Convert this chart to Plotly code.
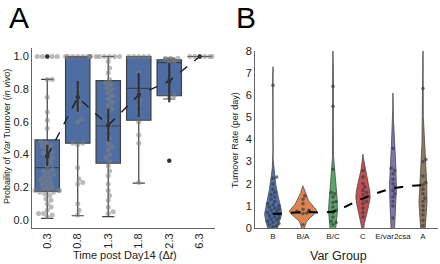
import numpy as np
import plotly.graph_objects as go

W, H = 440, 264

# ---------------- Panel A data ----------------
time_labels = ["0.3", "0.8", "1.3", "1.8", "2.3", "6.3"]

pts_t03 = [1.0, 1.0, 1.0, 1.0, 1.0, 0.86, 0.86, 0.75, 0.66, 0.61, 0.56, 0.48, 0.47, 0.46,
           0.45, 0.44, 0.42, 0.41, 0.40, 0.38, 0.37, 0.35, 0.33, 0.31, 0.30, 0.29, 0.28,
           0.27, 0.26, 0.25, 0.24, 0.23, 0.22, 0.21, 0.20, 0.19, 0.18, 0.18, 0.18, 0.18,
           0.17, 0.17, 0.16, 0.15, 0.13, 0.12, 0.10, 0.08, 0.06, 0.04, 0.04, 0.03, 0.02]
pts_t08 = [1.0] * 10 + [0.80, 0.74, 0.70, 0.67, 0.62, 0.60, 0.47, 0.47, 0.46, 0.32,
                        0.25, 0.23, 0.22, 0.10, 0.06, 0.03]
pts_t13 = [1.0] * 6 + [0.97, 0.93, 0.90, 0.86, 0.84, 0.83, 0.81, 0.80, 0.78, 0.76, 0.74,
                       0.72, 0.70, 0.68, 0.66, 0.61, 0.58, 0.55, 0.50, 0.47, 0.45, 0.43,
                       0.40, 0.38, 0.36, 0.33, 0.30, 0.27, 0.22, 0.18, 0.15, 0.12, 0.08,
                       0.05, 0.04]
pts_t18 = [1.0] * 5 + [0.90, 0.77, 0.73, 0.70, 0.66, 0.60, 0.52, 0.47, 0.23]
pts_t23 = [0.99, 0.99, 0.99, 0.97, 0.96, 0.76, 0.75]
pts_t63 = [1.0] * 6

box_q1 = [0.175, 0.47, 0.347, 0.61, 0.76, 1.0]
box_median = [0.32, 1.0, 0.575, 0.805, 0.962, 1.0]
box_q3 = [0.49, 1.0, 0.852, 1.0, 0.98, 1.0]
box_low = [0.01, 0.026, 0.02, 0.226, 0.74, 1.0]
box_high = [0.86, 1.0, 1.0, 1.0, 0.99, 1.0]

flier_cat = [0, 4]
flier_val = [1.0, 0.363]

mean_A = [0.39, 0.75, 0.58, 0.765, 0.85, 1.0]
ci_low_A = [0.33, 0.66, 0.48, 0.63, 0.72, 1.0]
ci_high_A = [0.46, 0.85, 0.68, 0.90, 0.96, 1.0]

# ---------------- Panel B data ----------------
groups = ["B", "B/A", "B/C", "C", "E/var2csa", "A"]
rate_B = [6.45, 2.3, 2.25, 2.0, 1.75, 1.6, 1.5, 1.4, 1.3, 1.2, 1.1, 1.05, 1.0, 0.95, 0.9,
          0.85, 0.8, 0.75, 0.7, 0.65, 0.6, 0.55, 0.5, 0.45, 0.4, 0.35, 0.3, 0.25, 0.2,
          0.15, 0.1, 0.05]
rate_BA = [1.45, 1.3, 1.1, 0.85, 0.8, 0.78, 0.75, 0.72, 0.7, 0.68, 0.65, 0.15]
rate_BC = [6.4, 5.5, 2.65, 1.6, 1.55, 1.4, 1.2, 1.15, 0.95, 0.8, 0.7, 0.5, 0.3, 0.25, 0.15]
rate_C = [2.6, 2.3, 2.0, 1.85, 1.7, 1.6, 1.5, 1.4, 1.3, 1.2, 1.1, 0.9, 0.7, 0.5]
rate_E = [3.6, 2.7, 2.6, 2.45, 2.2, 2.0, 1.85, 1.7, 1.55, 1.4, 1.2, 1.0, 0.45]
rate_A = [6.3, 3.1, 3.0, 2.35, 2.05, 1.95, 1.75, 1.55, 1.35, 1.2, 1.0, 0.8, 0.6, 0.35, 0.1]
mean_B = [0.63, 0.72, 0.75, 1.34, 1.79, 1.94]

# ---------------- styles ----------------
violin_colors = ["#4c72b0", "#dd8452", "#55a868", "#c44e52", "#8172b3", "#937860"]
violin_width = [0.56, 0.9, 0.30, 0.48, 0.23, 0.27]
violin_bw = [0.42, 0.23, 0.80, 0.37, 1.25, 1.0]
FONT = "Liberation Sans, Arial, sans-serif"
TXT = "#222222"

# pixel geometry of the two plot areas
A_x0, A_x1, A_y0, A_y1 = 32, 215, 48, 228
B_x0, B_x1, B_y0, B_y1 = 255, 438, 51, 228
A_yr = [-0.049, 1.052]
A_xr = [-0.5, 5.5]
B_xr = [-0.6, 5.5]
B_yr = [0, 8]

ppu_yA = (A_y1 - A_y0) / (A_yr[1] - A_yr[0])
ppu_xA = (A_x1 - A_x0) / (A_xr[1] - A_xr[0])
ppu_yB = (B_y1 - B_y0) / (B_yr[1] - B_yr[0])
ppu_xB = (B_x1 - B_x0) / (B_xr[1] - B_xr[0])
MS_A = 5.0
MS_B = 3.6


def swarm(vals, ppu_y, ppu_x, d, max_off):
    """Beeswarm offsets (in category units) so that markers do not overlap."""
    vals = np.asarray(vals, float)
    order = np.argsort(vals, kind="stable")
    res = np.zeros(len(vals))
    placed = []
    step = d / 4.0
    cands = [0.0]
    for k in range(1, 200):
        cands += [k * step, -k * step]
    for i in order:
        y = vals[i] * ppu_y
        chosen = 0.0
        for c in cands:
            if all((c - px) ** 2 + (y - py) ** 2 >= d * d * 0.97 for px, py in placed):
                chosen = c
                break
        chosen = float(np.clip(chosen, -max_off, max_off))
        placed.append((chosen, y))
        res[i] = chosen / ppu_x
    return res


def kde_outline(vals, bw, n=300):
    v = np.asarray(vals, float)
    grid = np.linspace(v.min() - 2 * bw, v.max() + 2 * bw, n)
    dens = np.exp(-0.5 * ((grid[:, None] - v[None, :]) / bw) ** 2).sum(axis=1)
    return grid, dens / dens.max()


fig = go.Figure()

# Panel A boxes
fig.add_trace(go.Box(
    x=list(range(len(time_labels))), q1=box_q1, median=box_median, q3=box_q3,
    lowerfence=box_low, upperfence=box_high, width=0.8, whiskerwidth=0.5,
    fillcolor="#4e6da3", line=dict(color="#404040", width=1.2),
    boxpoints=False, showlegend=False, xaxis="x", yaxis="y", hoverinfo="skip"))

# swarm points
all_pts = [pts_t03, pts_t08, pts_t13, pts_t18, pts_t23, pts_t63]
sx, sy = [], []
for ci, pts in enumerate(all_pts):
    offs = swarm(pts, ppu_yA, ppu_xA, MS_A, 0.4 * ppu_xA)
    sx += list(ci + offs)
    sy += list(pts)
fig.add_trace(go.Scatter(x=sx, y=sy, mode="markers",
                         marker=dict(size=MS_A, color="rgba(130,130,130,0.55)", line=dict(width=0)),
                         showlegend=False, xaxis="x", yaxis="y", hoverinfo="skip", cliponaxis=False))
fig.add_trace(go.Scatter(x=flier_cat, y=flier_val, mode="markers",
                         marker=dict(size=4.5, color="#333333"),
                         showlegend=False, xaxis="x", yaxis="y", hoverinfo="skip", cliponaxis=False))

# means with CI
mA = np.array(mean_A)
fig.add_trace(go.Scatter(
    x=list(range(len(time_labels))), y=mean_A, mode="lines+markers",
    line=dict(color="#222222", width=1.5, dash="dash"),
    marker=dict(size=4.5, color="#333333"),
    error_y=dict(type="data", symmetric=False, array=list(np.array(ci_high_A) - mA),
                 arrayminus=list(mA - np.array(ci_low_A)), color="#333333", thickness=2.2, width=0),
    showlegend=False, xaxis="x", yaxis="y", hoverinfo="skip", cliponaxis=False))

# Panel B violins (kernel density outlines, drawn symmetric around each group)
rates = [rate_B, rate_BA, rate_BC, rate_C, rate_E, rate_A]
for gi, r in enumerate(rates):
    grid, dens = kde_outline(r, violin_bw[gi])
    hw = violin_width[gi] / 2 * dens
    xs = np.concatenate([gi + hw, (gi - hw)[::-1]])
    ys = np.concatenate([grid, grid[::-1]])
    fig.add_trace(go.Scatter(x=xs, y=ys, mode="lines", fill="toself", fillcolor=violin_colors[gi],
                             line=dict(color="#4a4a4a", width=0.8), showlegend=False,
                             xaxis="x2", yaxis="y2", hoverinfo="skip"))

bx, by = [], []
for gi, r in enumerate(rates):
    half_px = violin_width[gi] / 2 * ppu_xB
    offs = swarm(r, ppu_yB, ppu_xB, MS_B, min(0.7 * half_px, 6))
    bx += list(gi + offs)
    by += list(r)
fig.add_trace(go.Scatter(x=bx, y=by, mode="markers",
                         marker=dict(size=MS_B, color="rgba(60,60,60,0.7)", line=dict(width=0)),
                         showlegend=False, xaxis="x2", yaxis="y2", hoverinfo="skip"))

fig.add_trace(go.Scatter(
    x=list(range(len(groups))), y=mean_B, mode="lines",
    line=dict(color="black", width=2, dash="dash", shape="spline"),
    showlegend=False, xaxis="x2", yaxis="y2", hoverinfo="skip"))


def dom_x(a, b):
    return [a / W, b / W]


def dom_y(top, bot):
    return [(H - bot) / H, (H - top) / H]


axis_common = dict(showgrid=False, zeroline=False, showline=True, linecolor="#666666", linewidth=1,
                   ticks="", automargin=False, tickfont=dict(family=FONT, size=11, color=TXT))

fig.update_layout(
    width=W, height=H, autosize=False, margin=dict(l=0, r=0, t=0, b=0),
    paper_bgcolor="white", plot_bgcolor="white", boxmode="overlay",
    font=dict(family=FONT, color=TXT),
    xaxis=dict(domain=dom_x(A_x0, A_x1), range=A_xr, tickvals=list(range(6)), ticktext=time_labels,
               tickangle=-90, anchor="y", **axis_common),
    yaxis=dict(domain=dom_y(A_y0, A_y1), range=A_yr, tickvals=[0, 0.2, 0.4, 0.6, 0.8, 1.0],
               tickformat=".1f", anchor="x", **axis_common),
    xaxis2=dict(domain=dom_x(B_x0, B_x1), range=B_xr, tickvals=list(range(6)), ticktext=groups,
                anchor="y2", **{**axis_common, "tickfont": dict(family=FONT, size=8, color=TXT)}),
    yaxis2=dict(domain=dom_y(B_y0, B_y1), range=B_yr, tickvals=list(range(9)), anchor="x2", **axis_common),
)

ann = [
    dict(text="A", x=19 / W, y=1.0, yanchor="top", borderpad=0, font=dict(size=30, family=FONT, color="black")),
    dict(text="B", x=246 / W, y=1.0, yanchor="top", borderpad=0, font=dict(size=30, family=FONT, color="black")),
    dict(text="Probaility of <i>Var</i> Turnover (<i>in vivo</i>)", x=7 / W, y=1 - 137 / H, textangle=-90,
         font=dict(size=9, family=FONT, color=TXT)),
    dict(text="Time post Day14 (Δ<i>t</i>)", x=125 / W, y=1 - 255 / H, font=dict(size=11, family=FONT, color=TXT)),
    dict(text="Turnover Rate (per day)", x=235 / W, y=1 - 140 / H, textangle=-90,
         font=dict(size=9, family=FONT, color=TXT)),
    dict(text="Var Group", x=338 / W, y=1 - 256 / H, font=dict(size=12.5, family=FONT, color=TXT)),
]
for a in ann:
    a.setdefault("yanchor", "middle")
    a.update(xref="paper", yref="paper", showarrow=False, xanchor="center")
fig.update_layout(annotations=ann)

fig.write_html("out.html", config={"displayModeBar": False},
               post_script="document.body.style.margin='0px';document.body.style.overflow='hidden';")
